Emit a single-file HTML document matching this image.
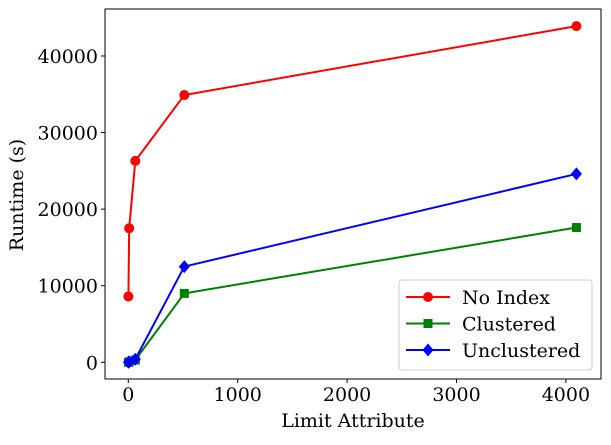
<!DOCTYPE html>
<html><head><meta charset="utf-8"><style>
body{margin:0;background:#fff}
text{font-family:"DejaVu Serif","Liberation Serif",serif;fill:#000}
</style></head><body>
<svg id="chart" width="611" height="440" xmlns="http://www.w3.org/2000/svg"></svg>
<script>
const xValues=[1,8,64,512,4096];
const noIndex=[8600,17500,26300,34900,43900];
const clustered=[0,50,300,9000,17600];
const unclustered=[0,60,400,12500,24600];
const xTicks=[0,1000,2000,3000,4000];
const yTicks=[0,10000,20000,30000,40000];
const L=105,R=601,T=9,B=379;
const X=v=>128.3+v*0.1094;
const Y=v=>362.3-v*0.007658;
const svg=document.getElementById('chart');
const NS='http://www.w3.org/2000/svg';
function mk(tag,attrs,parent){const e=document.createElementNS(NS,tag);for(const k in attrs)e.setAttribute(k,attrs[k]);(parent||svg).appendChild(e);return e;}
const frame=mk('rect',{x:L,y:T,width:R-L,height:B-T,fill:'none',stroke:'#000','stroke-width':1});


xTicks.forEach(t=>{
 const l=mk('line',{x1:X(t),x2:X(t),y1:B,y2:B+4,stroke:'#000'});
 
 
 const tx=mk('text',{x:X(t),y:B+22,'text-anchor':'middle','font-size':19});tx.textContent=t;
 
 
});
yTicks.forEach(t=>{
 const l=mk('line',{x1:L-4,x2:L,y1:Y(t),y2:Y(t),stroke:'#000'});
 
 
 const tx=mk('text',{x:L-7,y:Y(t)+7,'text-anchor':'end','font-size':19});tx.textContent=t;
 
 
});
const xt=mk('text',{x:353,y:427,'text-anchor':'middle','font-size':19});xt.textContent='Limit Attribute';


const yt=mk('text',{x:23,y:195,'text-anchor':'middle','font-size':19,transform:'rotate(-90 23 195)'});yt.textContent='Runtime (s)';


function marker(kind,x,y,c,name){
 let e;
 if(kind==='o')e=mk('circle',{cx:x,cy:y,r:5,fill:c});
 else if(kind==='s')e=mk('rect',{x:x-4.5,y:y-4.5,width:9,height:9,fill:c});
 else e=mk('polygon',{points:`${x},${y-6.5} ${x+5.5},${y} ${x},${y+6.5} ${x-5.5},${y}`,fill:c});
 
 
}
const series=[[noIndex,'red','o','no-index'],[clustered,'green','s','clustered'],[unclustered,'blue','D','unclustered']];
series.forEach(([vals,c,m,n])=>{
 const p=mk('polyline',{points:vals.map((v,i)=>X(xValues[i])+','+Y(v)).join(' '),fill:'none',stroke:c,'stroke-width':2});
 
 
 vals.forEach((v,i)=>marker(m,X(xValues[i]),Y(v),c,n+'-point'));
});
const lg=mk('g',{});


mk('rect',{x:399,y:280,width:193,height:90,rx:3,fill:'#fff',stroke:'#ccc'},lg);
const labels=['No Index','Clustered','Unclustered'];
series.forEach(([v,c,m,n],i)=>{
 const y=297+i*26.5;
 mk('line',{x1:406,x2:450,y1:y,y2:y,stroke:c,'stroke-width':2},lg);
 marker(m,428,y,c,'legend-marker-'+n);
 const t=mk('text',{x:462,y:y+7,'font-size':19},lg);t.textContent=labels[i];
 
 
});
</script>
</body></html>
